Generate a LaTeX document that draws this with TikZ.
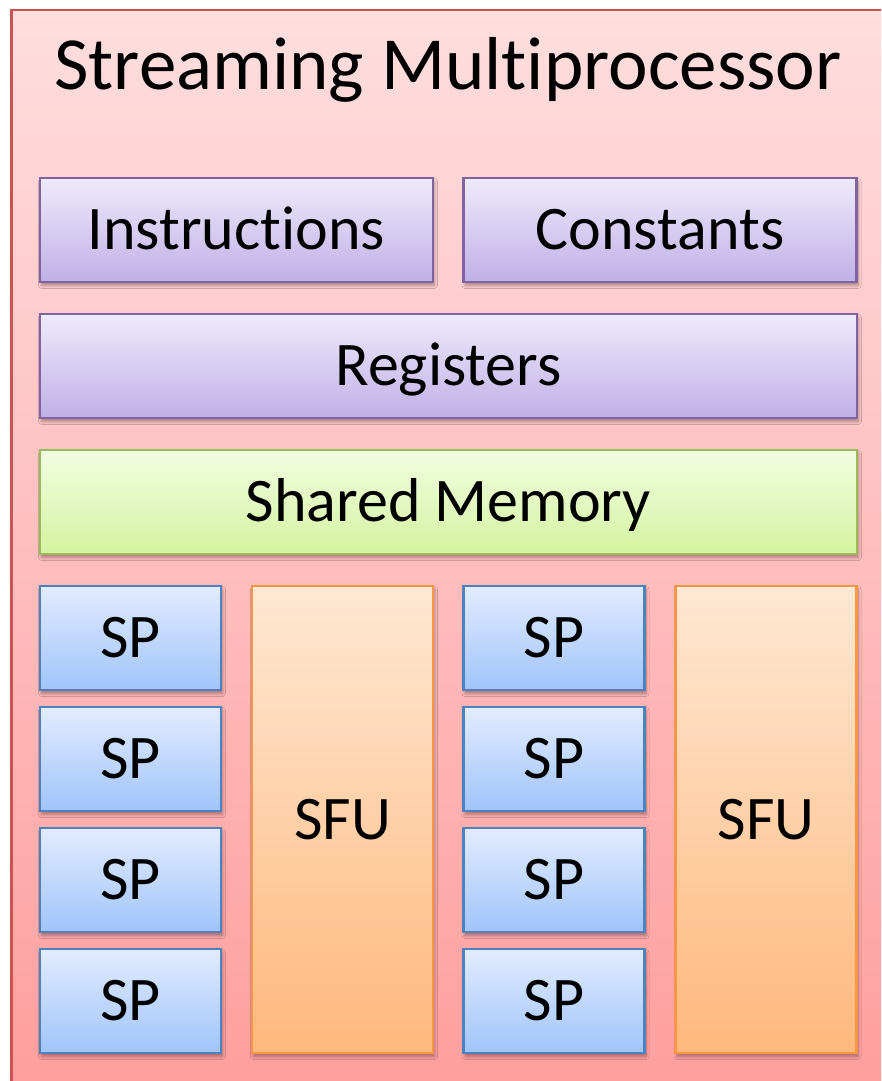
\documentclass[tikz,border=0pt]{standalone}
\usepackage{fontspec}
\setmainfont[Ligatures=NoCommon]{Carlito}
\usetikzlibrary{shadows.blur}

\definecolor{smTop}{RGB}{255,222,222}
\definecolor{smBot}{RGB}{255,158,158}
\definecolor{smLine}{RGB}{200,85,82}
\definecolor{puTop}{RGB}{238,234,252}
\definecolor{puBot}{RGB}{192,176,230}
\definecolor{puLine}{RGB}{128,100,162}
\definecolor{grTop}{RGB}{242,252,226}
\definecolor{grBot}{RGB}{212,244,160}
\definecolor{grLine}{RGB}{155,187,89}
\definecolor{blTop}{RGB}{226,236,255}
\definecolor{blBot}{RGB}{160,196,250}
\definecolor{blLine}{RGB}{79,129,189}
\definecolor{orTop}{RGB}{255,232,212}
\definecolor{orBot}{RGB}{255,184,124}
\definecolor{orLine}{RGB}{247,150,70}

\tikzset{
  unit/.style={rectangle, line width=2.2pt, inner sep=0pt,
    text height=39pt, text depth=0pt,
    font=\fontsize{62}{70}\selectfont,
    blur shadow={shadow xshift=1.5pt, shadow yshift=-3.5pt,
      shadow blur radius=3pt, shadow blur steps=6, shadow opacity=35}},
  wide/.style={unit, minimum width=817, minimum height=104},
  half/.style={unit, minimum width=393, minimum height=104},
  small/.style={unit, minimum width=181, minimum height=104},
  tall/.style={unit, minimum width=181, minimum height=467},
  purplebox/.style={draw=puLine, top color=puTop, bottom color=puBot},
  greenbox/.style={draw=grLine, top color=grTop, bottom color=grBot},
  bluebox/.style={draw=blLine, top color=blTop, bottom color=blBot},
  orangebox/.style={draw=orLine, top color=orTop, bottom color=orBot},
}

\begin{document}
\begin{tikzpicture}[x=1pt, y=-1pt]
\useasboundingbox (0,0) rectangle (881,1081);
\fill[white] (0,0) rectangle (881,1081);
\clip (0,0) rectangle (881,1081);

% enclosing multiprocessor block
\node[rectangle, draw=smLine, line width=2.5pt, top color=smTop, bottom color=smBot,
  minimum width=890, minimum height=1090, anchor=north west, inner sep=0pt] (sm) at (10,9) {};
\node[font=\fontsize{75}{82}\selectfont, anchor=base] (title) at (448,89) {Streaming Multiprocessor};

% memories
\node[half, purplebox] (instr) at (236.5,230) {Instructions};
\node[half, purplebox] (const) at (660,230) {Constants};
\node[wide, purplebox] (regs) at (448.5,366) {Registers};
\node[wide, greenbox] (smem) at (448.5,502) {Shared Memory};

% scalar processors, left group
\node[small, bluebox] (spa1) at (130.5,638) {SP};
\node[small, bluebox] (spa2) at (130.5,759) {SP};
\node[small, bluebox] (spa3) at (130.5,880) {SP};
\node[small, bluebox] (spa4) at (130.5,1001) {SP};
\node[tall, orangebox] (sfua) at (342.5,819.5) {SFU};

% scalar processors, right group
\node[small, bluebox] (spb1) at (554,638) {SP};
\node[small, bluebox] (spb2) at (554,759) {SP};
\node[small, bluebox] (spb3) at (554,880) {SP};
\node[small, bluebox] (spb4) at (554,1001) {SP};
\node[tall, orangebox] (sfub) at (766,819.5) {SFU};
\end{tikzpicture}
\end{document}
